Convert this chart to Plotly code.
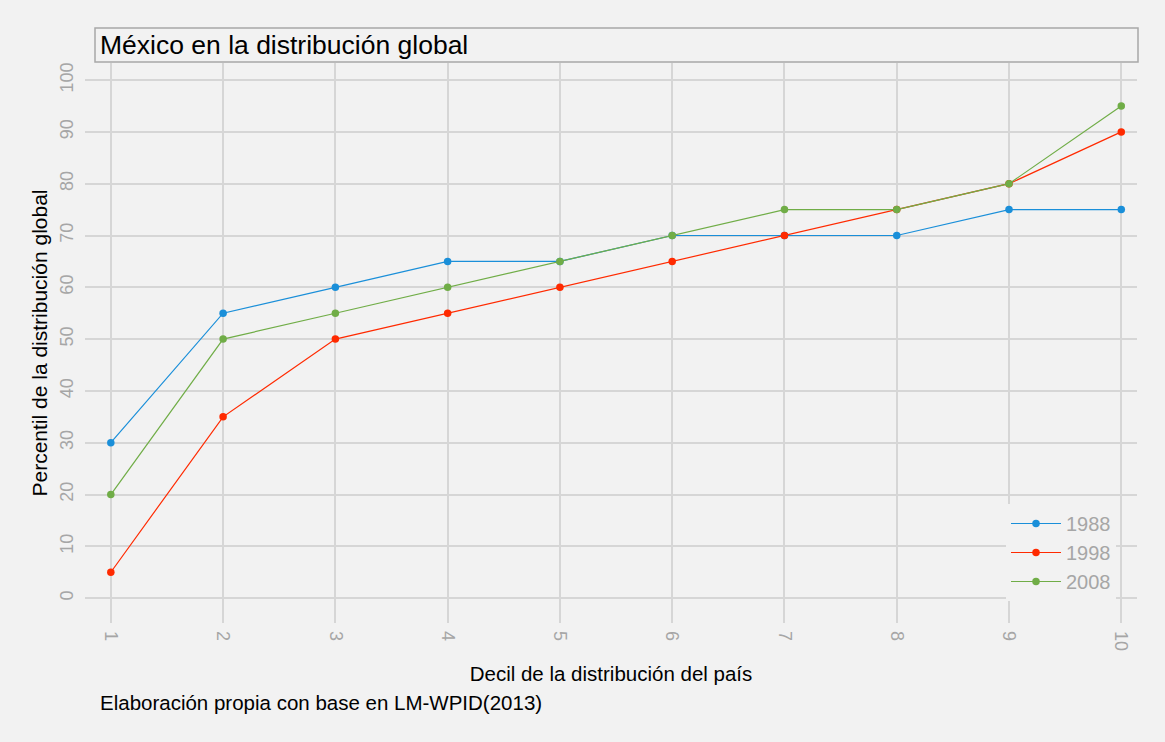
import plotly.graph_objects as go

deciles = [1, 2, 3, 4, 5, 6, 7, 8, 9, 10]
years = ["1988", "1998", "2008"]
v1988 = [30, 55, 60, 65, 65, 70, 70, 70, 75, 75]
v1998 = [5, 35, 50, 55, 60, 65, 70, 75, 80, 90]
v2008 = [20, 50, 55, 60, 65, 70, 75, 75, 80, 95]
colors = ["#1a8fd9", "#ff2a00", "#70ad47"]
yticks = [0, 10, 20, 30, 40, 50, 60, 70, 80, 90, 100]

W, H = 1165, 742
ML, MR, MT, MB = 85, 28, 63, 119
pw = W - ML - MR
ph = H - MT - MB


def px_x(x):
    return (x - ML) / pw


def px_y(y):
    return (H - MB - y) / ph


fig = go.Figure()
for name, vals, c in zip(years, [v1988, v1998, v2008], colors):
    fig.add_trace(go.Scatter(
        x=deciles, y=vals, name=name, mode="lines+markers",
        line=dict(color=c, width=1.2),
        marker=dict(color=c, size=7.5, symbol="circle"),
    ))

fig.update_layout(
    width=W, height=H,
    margin=dict(l=ML, r=MR, t=MT, b=MB, autoexpand=False),
    paper_bgcolor="#f2f2f2", plot_bgcolor="#f2f2f2",
    font=dict(family="Liberation Sans, Arial, sans-serif", color="#000000"),
    showlegend=True,
    legend=dict(
        x=px_x(1006), y=px_y(504), xanchor="left", yanchor="top",
        bgcolor="#f2f2f2", font=dict(size=20, color="#a6a6a6"),
        tracegroupgap=0, itemwidth=50,
    ),
    xaxis=dict(
        range=[0.77, 10.14], tickvals=deciles, ticktext=[str(d) for d in deciles],
        tickangle=90, showgrid=True, gridcolor="#d6d6d6", gridwidth=1.5,
        zeroline=False, showline=False, ticks="", ticklabelstandoff=7,
        tickfont=dict(size=18, color="#a6a6a6"),
        title=dict(text="Decil de la distribución del país",
                   font=dict(size=20.5, color="#000000"), standoff=16),
    ),
    yaxis=dict(
        range=[-4.8, 103.3], tickvals=yticks, ticktext=[str(t) for t in yticks],
        tickangle=-90, showgrid=True, gridcolor="#d6d6d6", gridwidth=1.5,
        zeroline=False, showline=False, ticks="", ticklabelstandoff=7,
        tickfont=dict(size=18, color="#a6a6a6"),
        title=dict(text="Percentil de la distribución global",
                   font=dict(size=21, color="#000000"), standoff=4),
    ),
    shapes=[dict(
        type="rect", xref="paper", yref="paper",
        x0=px_x(95), x1=px_x(1138), y0=px_y(62), y1=px_y(28),
        line=dict(color="#a8a8a8", width=1.5), fillcolor="rgba(0,0,0,0)",
    )],
    annotations=[
        dict(text="México en la distribución global", xref="paper", yref="paper",
             x=px_x(98), y=px_y(45), xanchor="left", yanchor="middle",
             showarrow=False, font=dict(size=26.5, color="#000000")),
        dict(text="Elaboración propia con base en LM-WPID(2013)", xref="paper", yref="paper",
             x=px_x(98), y=px_y(702), xanchor="left", yanchor="middle",
             showarrow=False, font=dict(size=20.5, color="#000000")),
    ],
)

fig.write_html("out.html", config={"displayModeBar": False},
               post_script="document.body.style.margin='0';")
